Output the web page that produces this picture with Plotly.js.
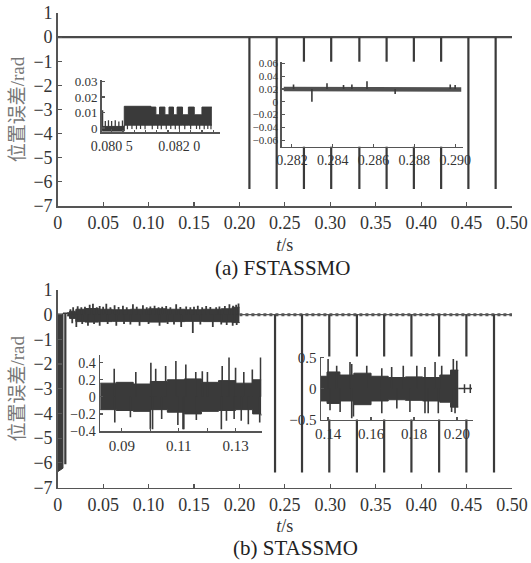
<!DOCTYPE html>
<html><head><meta charset="utf-8">
<script src="https://cdn.plot.ly/plotly-3.0.1.min.js"></script>
<style>html,body{margin:0;padding:0;background:#fff}#chart{width:531px;height:563px}</style>
</head><body><div id="chart"></div>
<script>
// ---------------- data ----------------
const mainTickVals = [0, 0.05, 0.10, 0.15, 0.20, 0.25, 0.30, 0.35, 0.40, 0.45, 0.50];
const mainTickText = ["0", "0.05", "0.10", "0.15", "0.20", "0.25", "0.30", "0.35", "0.40", "0.45", "0.50"];
const mainYTicks = [1, 0, -1, -2, -3, -4, -5, -6, -7];

// (a) FSTASSMO, main panel
const aBaseT = [0, 0.5];
const aBaseV = [0, 0];
const aSpikeT = [0.211, 0.241, 0.271, 0.301, 0.332, 0.362, 0.392, 0.422, 0.452, 0.482];
const aSpikeV = [-6.3, -6.3, -6.3, -6.3, -6.3, -6.3, -6.3, -6.3, -6.3, -6.3];

// (a) inset 1 : 0.0803 - 0.0829 s (band envelope, step shaped)
const a1T  = [0.08029, 0.08078, 0.08137, 0.08148, 0.08156, 0.08168, 0.08177, 0.08187, 0.08195, 0.08207, 0.08220, 0.08233, 0.08250, 0.08272];
const a1Up = [0.0010, 0.0140, 0.0135, 0.0085, 0.0135, 0.0085, 0.0135, 0.0085, 0.0135, 0.0085, 0.0135, 0.0085, 0.0135, 0.0135];
const a1Lo = [-0.0020, 0.0018, 0.0018, 0.0018, 0.0018, 0.0018, 0.0018, 0.0018, 0.0018, 0.0018, 0.0018, 0.0018, 0.0018, 0.0018];
const a1UpSpikeT = [0.08030, 0.08036, 0.08043, 0.08050, 0.08058, 0.08066, 0.08074];
const a1UpSpikeV = [0.0115, 0.0045, 0.0050, 0.0045, 0.0050, 0.0042, 0.0048];
const a1DnSpikeT = [0.08085, 0.08095, 0.08105, 0.08114, 0.08124, 0.08140, 0.08152, 0.08160, 0.08171, 0.08181, 0.08191, 0.08200, 0.08212, 0.08225, 0.08238, 0.08245, 0.08255, 0.08263, 0.08270];
const a1DnSpikeV = [-0.0008, -0.0006, -0.0008, -0.0007, -0.0008, -0.0008, -0.0007, -0.0008, -0.0008, -0.0006, -0.0008, -0.0007, -0.0008, -0.0008, -0.0007, -0.0008, -0.0008, -0.0007, -0.0008];

// (a) inset 2 : 0.2815 - 0.2904 s
const a2T = [0.2816, 0.2860, 0.2903];
const a2V = [0.0200, 0.0198, 0.0190];
const a2SpikeT = [0.28208, 0.28298, 0.28372, 0.28453, 0.28494, 0.28568, 0.28706, 0.28976, 0.29000];
const a2SpikeV = [0.027, 0.000, 0.029, 0.026, 0.027, 0.032, 0.012, 0.027, 0.026];

// (b) STASSMO, main panel
const bBlockT = [0, 0, 0.0058, 0.0058];
const bBlockV = [0.05, -6.36, -6.22, 0.05];
const bEarlyT = [0.0058, 0.0110];
const bEarlyV = [0.06, 0.06];
const bEarlySpikeT = [0.0084];
const bEarlySpikeV = [-6.06];
const bBandT  = [0.0105, 0.013, 0.020, 0.030, 0.045, 0.060, 0.080, 0.100, 0.120, 0.140, 0.160, 0.180, 0.192, 0.200];
const bBandUp = [0.08, 0.14, 0.22, 0.25, 0.22, 0.20, 0.22, 0.24, 0.22, 0.20, 0.22, 0.24, 0.30, 0.30];
const bBandLo = [-0.05, -0.15, -0.28, -0.30, -0.28, -0.27, -0.28, -0.30, -0.28, -0.27, -0.28, -0.30, -0.32, -0.30];
const bUpSpikeT = [0.014, 0.017, 0.022, 0.026, 0.030, 0.0352, 0.0388, 0.043, 0.0462, 0.050, 0.0535, 0.058, 0.0626, 0.067, 0.0718, 0.076, 0.0828, 0.087,
                   0.0938, 0.098, 0.102, 0.1066, 0.111, 0.115, 0.1194, 0.124, 0.1304, 0.135, 0.1414, 0.146, 0.150, 0.1542, 0.159, 0.1634, 0.168, 0.1744,
                   0.178, 0.184, 0.1890, 0.193, 0.1964, 0.1990];
const bUpSpikeV = [0.22, 0.30, 0.34, 0.30, 0.32, 0.40, 0.44, 0.30, 0.35, 0.32, 0.44, 0.30, 0.38, 0.31, 0.36, 0.30, 0.42, 0.32,
                   0.38, 0.30, 0.33, 0.36, 0.30, 0.32, 0.35, 0.30, 0.42, 0.31, 0.33, 0.30, 0.32, 0.36, 0.30, 0.35, 0.31, 0.30,
                   0.33, 0.35, 0.42, 0.36, 0.40, 0.45];
const bDnSpikeT = [0.016, 0.0205, 0.027, 0.0333, 0.040, 0.0462, 0.055, 0.0645, 0.073, 0.080, 0.0901, 0.100, 0.1121, 0.121, 0.128, 0.1359, 0.1487,
                   0.157, 0.1707, 0.180, 0.186, 0.1926, 0.197];
const bDnSpikeV = [-0.35, -0.50, -0.38, -0.45, -0.38, -0.45, -0.38, -0.45, -0.38, -0.40, -0.45, -0.38, -0.45, -0.38, -0.40, -0.50, -0.74,
                   -0.40, -0.50, -0.40, -0.42, -0.45, -0.42];
const bBaseT = [0.2, 0.5];
const bBaseV = [0, 0];
const bSpikeT = [0.2392, 0.2689, 0.2989, 0.3293, 0.3593, 0.3893, 0.4198, 0.4498, 0.4802];
const bSpikeV = [-6.39, -6.39, -6.39, -6.39, -6.39, -6.39, -6.39, -6.39, -6.39];

// (b) inset 1 : 0.0823 - 0.1392 s
const b1T  = [0.0824, 0.088, 0.094, 0.100, 0.106, 0.112, 0.118, 0.124, 0.130, 0.136, 0.1390];
const b1Up = [0.16, 0.17, 0.15, 0.18, 0.20, 0.21, 0.17, 0.19, 0.16, 0.20, 0.20];
const b1Lo = [-0.15, -0.16, -0.17, -0.15, -0.18, -0.20, -0.17, -0.16, -0.15, -0.20, -0.22];
const b1UpSpikeT = [0.0873, 0.0949, 0.1002, 0.1019, 0.1054, 0.1090, 0.1125, 0.1160, 0.1183, 0.1201, 0.1253, 0.1277, 0.1300, 0.1329, 0.1359, 0.1388];
const b1UpSpikeV = [0.33, 0.29, 0.40, 0.33, 0.36, 0.42, 0.38, 0.29, 0.30, 0.29, 0.36, 0.46, 0.34, 0.29, 0.32, 0.46];
const b1DnSpikeT = [0.0875, 0.0930, 0.1000, 0.1008, 0.1040, 0.1097, 0.1115, 0.1118, 0.1162, 0.1250, 0.1268, 0.1295, 0.1320, 0.1345, 0.1385];
const b1DnSpikeV = [-0.30, -0.24, -0.38, -0.38, -0.26, -0.33, -0.38, -0.38, -0.27, -0.38, -0.28, -0.26, -0.28, -0.32, -0.30];

// (b) inset 2 : 0.1367 - 0.2076 s
const b2T  = [0.1367, 0.1395, 0.1455, 0.152, 0.160, 0.168, 0.176, 0.184, 0.192, 0.197, 0.2006];
const b2Up = [0.20, 0.27, 0.22, 0.25, 0.20, 0.18, 0.19, 0.18, 0.22, 0.30, 0.30];
const b2Lo = [-0.20, -0.24, -0.20, -0.26, -0.20, -0.18, -0.19, -0.20, -0.22, -0.30, -0.30];
const b2UpSpikeT = [0.1400, 0.1440, 0.1502, 0.1510, 0.1580, 0.1650, 0.1696, 0.1750, 0.1813, 0.1851, 0.1898, 0.1929, 0.1983, 0.1999];
const b2UpSpikeV = [0.48, 0.37, 0.43, 0.40, 0.37, 0.33, 0.35, 0.37, 0.37, 0.35, 0.43, 0.37, 0.48, 0.45];
const b2DnSpikeT = [0.1409, 0.1456, 0.1510, 0.1518, 0.1650, 0.1720, 0.1781, 0.1851, 0.1866, 0.1913, 0.1975, 0.1991];
const b2DnSpikeV = [-0.35, -0.38, -0.48, -0.45, -0.40, -0.32, -0.38, -0.40, -0.40, -0.40, -0.38, -0.40];
const b2TailT = [0.2006, 0.2070];
const b2TailV = [0, 0];
const b2TailMarkT = [0.2035, 0.2062];

// ---------------- helpers ----------------
const DARK = '#3a3a3a';
function spikes(ts, vs, base) {
  const x = [], y = [];
  ts.forEach((t, i) => { x.push(t, t, null); y.push(base, vs[i], null); });
  return {x, y};
}
function lineTrace(x, y, xa, ya, w, extra) {
  return Object.assign({type: 'scatter', mode: 'lines', x, y, xaxis: xa, yaxis: ya,
    line: {color: DARK, width: w}, hoverinfo: 'skip', showlegend: false}, extra || {});
}
function spikeTrace(ts, vs, base, xa, ya, w) {
  const s = spikes(ts, vs, base);
  return lineTrace(s.x, s.y, xa, ya, w);
}
function bandTraces(t, up, lo, xa, ya, shape) {
  return [
    lineTrace(t, lo, xa, ya, 1, {line: {color: DARK, width: 1, shape: shape}}),
    lineTrace(t, up, xa, ya, 1, {line: {color: DARK, width: 1, shape: shape}, fill: 'tonexty', fillcolor: DARK})
  ];
}

const traces = [];
// (a) main
traces.push(lineTrace(aBaseT, aBaseV, 'x', 'y', 2.2, {line: {color: '#4a4a4a', width: 2.2}}));
traces.push(spikeTrace(aSpikeT, aSpikeV, 0, 'x', 'y', 2.2));
// (b) main
traces.push(lineTrace(bBlockT, bBlockV, 'x2', 'y2', 1, {fill: 'toself', fillcolor: DARK}));
traces.push(lineTrace(bEarlyT, bEarlyV, 'x2', 'y2', 1.5));
traces.push(spikeTrace(bEarlySpikeT, bEarlySpikeV, 0.05, 'x2', 'y2', 2.2));
traces.push(...bandTraces(bBandT, bBandUp, bBandLo, 'x2', 'y2', 'hv'));
traces.push(spikeTrace(bUpSpikeT, bUpSpikeV, 0, 'x2', 'y2', 1.8));
traces.push(spikeTrace(bDnSpikeT, bDnSpikeV, 0, 'x2', 'y2', 1.8));
traces.push(lineTrace(bBaseT, bBaseV, 'x2', 'y2', 1.2, {line: {color: '#555', width: 1.2}}));
traces.push(lineTrace(bBaseT, bBaseV, 'x2', 'y2', 3, {line: {color: '#555', width: 3, dash: 'dot'}}));
traces.push(spikeTrace(bSpikeT, bSpikeV, 0, 'x2', 'y2', 2.2));
// (a) inset 1
traces.push(...bandTraces(a1T, a1Up, a1Lo, 'x3', 'y3', 'hv'));
traces.push(spikeTrace(a1UpSpikeT, a1UpSpikeV, -0.0015, 'x3', 'y3', 1.3));
traces.push(spikeTrace(a1DnSpikeT, a1DnSpikeV, 0.002, 'x3', 'y3', 1.2));
// (a) inset 2
traces.push(lineTrace(a2T, a2V, 'x4', 'y4', 4.5, {line: {color: '#505050', width: 4.5}}));
traces.push(spikeTrace(a2SpikeT, a2SpikeV, 0.0198, 'x4', 'y4', 1.6));
// (b) inset 1
traces.push(...bandTraces(b1T, b1Up, b1Lo, 'x5', 'y5', 'hv'));
traces.push(spikeTrace(b1UpSpikeT, b1UpSpikeV, 0, 'x5', 'y5', 1.6));
traces.push(spikeTrace(b1DnSpikeT, b1DnSpikeV, 0, 'x5', 'y5', 1.6));
// (b) inset 2
traces.push(...bandTraces(b2T, b2Up, b2Lo, 'x6', 'y6', 'hv'));
traces.push(spikeTrace(b2UpSpikeT, b2UpSpikeV, 0, 'x6', 'y6', 1.6));
traces.push(spikeTrace(b2DnSpikeT, b2DnSpikeV, 0, 'x6', 'y6', 1.6));
traces.push(lineTrace(b2TailT, b2TailV, 'x6', 'y6', 1.5));
traces.push(spikeTrace(b2TailMarkT, [0.07, 0.07], -0.07, 'x6', 'y6', 1.5));

// ---------------- layout ----------------
const W = 531, H = 563;
const px = v => v / W;
const py = v => 1 - v / H;
const SERIF = 'Liberation Serif, Times New Roman, serif';
function ax(extra, fs) {
  return Object.assign({
    showline: true, linecolor: '#555', linewidth: 1.5, ticks: 'inside', ticklen: 4, tickwidth: 1.2,
    tickcolor: '#555', showgrid: false, zeroline: false, fixedrange: true, tickmode: 'array',
    tickfont: {family: SERIF, size: fs || 18, color: '#333'}
  }, extra);
}
const yTitle = {text: '位置误差/rad', font: {family: 'Liberation Serif, Noto Sans CJK SC, serif', size: 19, color: '#777'}, standoff: 4};
const xTitle = {text: '<i>t</i>/s', font: {family: SERIF, size: 18, color: '#333'}, standoff: 6};

const layout = {
  width: W, height: H, margin: {l: 0, r: 0, t: 0, b: 0},
  paper_bgcolor: '#fff', plot_bgcolor: '#fff', showlegend: false,
  xaxis:  ax({domain: [px(57.7), px(512)], range: [0, 0.5], anchor: 'y', tickvals: mainTickVals, ticktext: mainTickText, title: xTitle}),
  yaxis:  ax({domain: [py(206), py(13)], range: [-7, 1], anchor: 'x', tickvals: mainYTicks, title: yTitle}),
  xaxis2: ax({domain: [px(57.7), px(512)], range: [0, 0.5], anchor: 'y2', tickvals: mainTickVals, ticktext: mainTickText, title: xTitle}),
  yaxis2: ax({domain: [py(487.5), py(290)], range: [-7, 1], anchor: 'x2', tickvals: mainYTicks, title: yTitle}),
  xaxis3: ax({domain: [px(101.7), px(220)], range: [0.08028, 0.0829], anchor: 'y3', tickvals: [0.0805, 0.0820], ticktext: ['0.080 5', '0.082 0'], ticklen: 3,
              minor: {tickvals: [0.08050, 0.08075, 0.08100, 0.08125, 0.08150, 0.08175, 0.08200, 0.08225, 0.08250, 0.08275], ticks: 'inside', ticklen: 2, tickcolor: '#555'}}, 14),
  yaxis3: ax({domain: [py(132.3), py(80)], range: [-0.0028, 0.031], anchor: 'x3', tickvals: [0, 0.01, 0.02, 0.03], ticktext: ['0', '0.01', '0.02', '0.03'], ticklen: 3}, 13),
  xaxis4: ax({domain: [px(281.7), px(463.3)], range: [0.2815, 0.2904], anchor: 'y4', tickvals: [0.282, 0.284, 0.286, 0.288, 0.290], ticktext: ['0.282', '0.284', '0.286', '0.288', '0.290'], ticklen: 3}, 14),
  yaxis4: ax({domain: [py(146.7), py(61.7)], range: [-0.07, 0.0625], anchor: 'x4', tickvals: [0.06, 0.04, 0.02, 0, -0.02, -0.04, -0.06], ticktext: ['0.06', '0.04', '0.02', '0', '\u22120.02', '\u22120.04', '\u22120.06'], ticklen: 3}, 11),
  xaxis5: ax({domain: [px(100), px(261.7)], range: [0.0823, 0.1392], anchor: 'y5', tickvals: [0.09, 0.10, 0.11, 0.12, 0.13], ticktext: ['0.09', '', '0.11', '', '0.13'], ticklen: 3}, 15),
  yaxis5: ax({domain: [py(431), py(355)], range: [-0.4, 0.49], anchor: 'x5', tickvals: [0.4, 0.2, 0, -0.2, -0.4], ticktext: ['0.4', '0.2', '0', '\u22120.2', '\u22120.4'], ticklen: 3}, 14),
  xaxis6: ax({domain: [px(321), px(473.3)], range: [0.1367, 0.2076], anchor: 'y6', tickvals: [0.14, 0.16, 0.18, 0.20], ticktext: ['0.14', '0.16', '0.18', '0.20'], ticklen: 3}, 15),
  yaxis6: ax({domain: [py(419.5), py(356.5)], range: [-0.5, 0.52], anchor: 'x6', tickvals: [0.5, 0, -0.5], ticktext: ['0.5', '0', '\u22120.5'], ticklen: 3}, 15),
  annotations: [
    {xref: 'paper', yref: 'paper', x: px(282), y: py(268), text: '(a) FSTASSMO', showarrow: false, xanchor: 'center', yanchor: 'middle',
     font: {family: SERIF, size: 21, color: '#222'}},
    {xref: 'paper', yref: 'paper', x: px(295), y: py(548), text: '(b) STASSMO', showarrow: false, xanchor: 'center', yanchor: 'middle',
     font: {family: SERIF, size: 21, color: '#222'}}
  ]
};

Plotly.newPlot('chart', traces, layout, {staticPlot: true, displayModeBar: false});
</script>
</body></html>
